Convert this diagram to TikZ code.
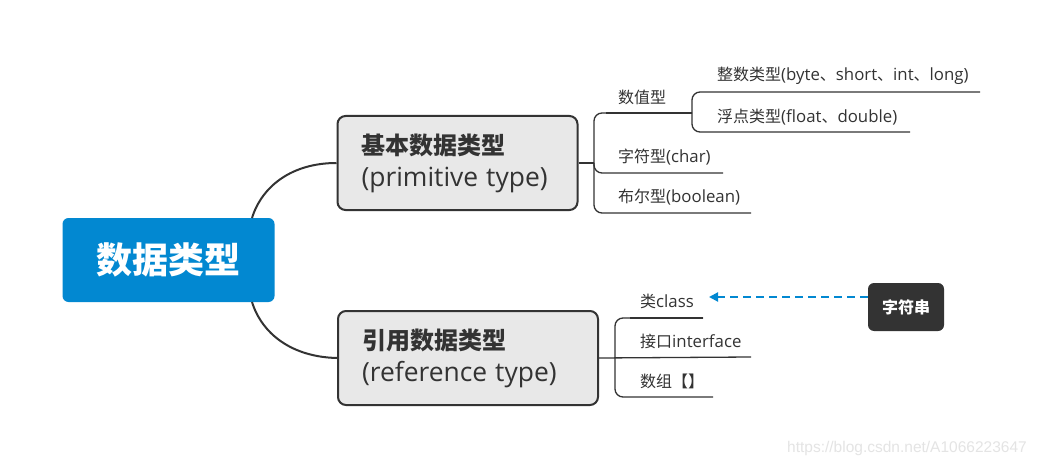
\documentclass[tikz,border=0pt]{standalone}
\usepackage{fontspec}
\setmainfont{Noto Sans CJK SC}
\newfontfamily\wmfont{Liberation Sans}
\newfontfamily\latfont[Scale=1.05]{Open Sans}
\newfontfamily\latbigfont[Scale=1.1]{Open Sans}
\newcommand{\latn}[1]{{\latfont #1}}
\newcommand{\latb}[1]{{\latbigfont #1}}
\usetikzlibrary{arrows.meta}
\definecolor{rootblue}{RGB}{2,136,209}
\definecolor{ink}{RGB}{51,51,51}
\definecolor{boxgray}{RGB}{232,232,232}
\definecolor{wmgray}{RGB}{228,228,228}
\begin{document}
\begin{tikzpicture}[x=1pt,y=-1pt,
  rootbox/.style={fill=rootblue, rounded corners=6pt, text=white, inner sep=0pt,
    minimum width=212, minimum height=84, font=\fontsize{36}{40}\selectfont\bfseries},
  catbox/.style={fill=boxgray, draw=ink, line width=2pt, rounded corners=8pt, text=ink,
    align=left, inner xsep=24pt, inner ysep=0pt, minimum height=94,
    font=\fontsize{24}{32}\selectfont},
  leaf/.style={anchor=west, text=ink, inner sep=0pt, font=\fontsize{16}{18}\selectfont},
  strbox/.style={fill=ink, rounded corners=6pt, text=white, inner sep=0pt,
    minimum width=76, minimum height=48, font=\fontsize{16}{18}\selectfont\bfseries},
  trunk/.style={draw=ink, line width=2pt},
  branch/.style={draw=ink, line width=1.3pt, rounded corners=8pt},
  strong/.style={draw=ink, line width=2.2pt},
  refarrow/.style={draw=rootblue, line width=2pt, dash pattern=on 8pt off 5pt,
    -{Triangle[length=9pt,width=9pt]}}
]
\useasboundingbox (0,0) rectangle (1042,468);
\fill[white] (0,0) rectangle (1042,468);

% root
\node[rootbox] (root) at (168.5,260) {数据类型};

% category boxes
\node[catbox, text width=192] (prim) at (457.5,163) {\textbf{基本数据类型}\\\latb{(primitive type)}};
\node[catbox, text width=212] (ref) at (468,358) {\textbf{引用数据类型}\\\latb{(reference type)}};

% root connectors
\coordinate (rt) at (252,218);
\coordinate (rb) at (252,302);
\draw[trunk] (rt) .. controls (262,186) and (292,163) .. (prim.west);
\draw[trunk] (rb) .. controls (262,334) and (292,357) .. (ref.west);

% top group joints
\coordinate (pj) at (594,163);
\coordinate (pt) at (594,113);
\coordinate (pb) at (594,213);
\coordinate (nj) at (692,113);
\coordinate (nt) at (692,92);
\coordinate (nb) at (692,132);

% leaves (top)
\node[leaf] (num) at (618,97) {数值型};
\node[leaf] (int) at (717,76) {整数类型\latn{(byte}、\latn{short}、\latn{int}、\latn{long)}};
\node[leaf] (flt) at (717,117) {浮点类型\latn{(float}、\latn{double)}};
\node[leaf] (chr) at (618,157) {字符型\latn{(char)}};
\node[leaf] (bool) at (618,197) {布尔型\latn{(boolean)}};

\coordinate (intend) at (980,92);
\coordinate (fltend) at (910,132);
\coordinate (chrend) at (723,173);
\coordinate (boolend) at (751,213);

\draw[trunk, line width=1.5pt] (prim.east) -- (pj);
\draw[branch] (nj) -- (pt) -- (pb) -- (boolend);
\draw[branch] (pj) -- (594,173) -- (chrend);
\draw[strong] (606,113) -- (nj);
\draw[branch] (intend) -- (nt) -- (nb) -- (fltend);

% bottom group
\coordinate (qj) at (615,357);
\coordinate (qt) at (615,318);
\coordinate (qb) at (615,397);
\node[leaf] (cls) at (640,301) {类\latn{class}};
\node[leaf] (itf) at (640,341) {接口\latn{interface}};
\node[leaf] (arr) at (640,381) {数组【】};
\coordinate (clsend) at (703,318);
\coordinate (itfend) at (751,357);
\coordinate (arrend) at (713,397);

\draw[branch] (ref.east) -- (itfend);
\draw[branch] (clsend) -- (qt) -- (qb) -- (arrend);
\draw[strong] (630,318) -- (clsend);

% string box and dashed reference
\node[strbox] (str) at (906,307) {字符串};
\coordinate (clsarrow) at (709,297);
\draw[refarrow] (str.west |- clsarrow) -- (clsarrow);

% watermark
\node[anchor=west, inner sep=0pt, text=wmgray, font=\wmfont\fontsize{15.5}{17}\selectfont] (wm) at (787,448) {https://blog.csdn.net/A1066223647};
\end{tikzpicture}
\end{document}
